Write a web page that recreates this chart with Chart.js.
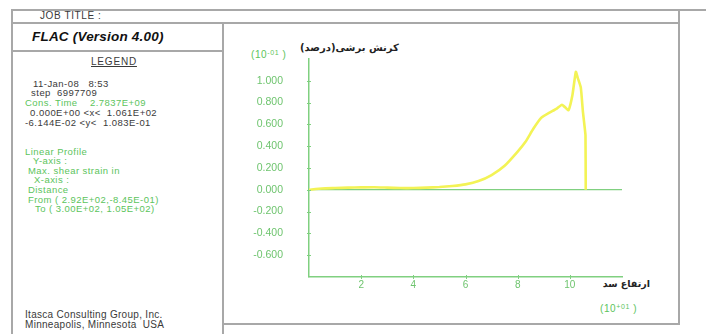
<!DOCTYPE html>
<html>
<head>
<meta charset="utf-8">
<script src="https://cdn.jsdelivr.net/npm/chart.js@4.4.1/dist/chart.umd.min.js"></script>
<style>
  html, body { margin: 0; padding: 0; background: #fff; }
  #wrap { position: relative; width: 706px; height: 334px; overflow: hidden; font-family: "Liberation Sans", Arial, sans-serif; }
  #wrap canvas { position: absolute; left: 0; top: 0; }
  .ln { position: absolute; background: #a8a8a8; }
  .t { position: absolute; white-space: pre; font-size: 9.5px; letter-spacing: 0.45px; color: #3a3a3a; line-height: 1; }
  .g { color: #5cc45c; }
  .ar { font-family: "DejaVu Sans", sans-serif; font-weight: bold; font-size: 10px; letter-spacing: 0; color: #222; }
  sup { font-size: 7px; vertical-align: 3px; }
</style>
</head>
<body>
<div id="wrap">
  <!-- frame lines -->
  <div class="ln" style="left:12px;top:9px;width:694px;height:1.5px"></div>
  <div class="ln" style="left:12px;top:22px;width:667px;height:1.5px"></div>
  <div class="ln" style="left:12px;top:50px;width:211px;height:1.5px"></div>
  <div class="ln" style="left:11px;top:9px;width:1.5px;height:325px"></div>
  <div class="ln" style="left:222px;top:22px;width:1.5px;height:312px"></div>
  <div class="ln" style="left:678px;top:9px;width:2px;height:316px"></div>
  <div class="ln" style="left:222px;top:323px;width:458px;height:2px"></div>

  <!-- header / legend panel -->
  <div class="t" style="left:40px;top:11px;font-size:10px;letter-spacing:0.6px">JOB TITLE :</div>
  <div class="t" style="left:32px;top:30px;font-size:13.5px;letter-spacing:0.2px;font-weight:bold;font-style:italic;color:#111">FLAC (Version 4.00)</div>
  <div class="t" style="left:91px;top:57px;font-size:10px;letter-spacing:0.8px;text-decoration:underline">LEGEND</div>
  <div class="t" style="left:33px;top:79px">11-Jan-08   8:53</div>
  <div class="t" style="left:28px;top:88px"> step  6997709</div>
  <div class="t g" style="left:25px;top:98px">Cons. Time    2.7837E+09</div>
  <div class="t" style="left:27px;top:108px"> 0.000E+00 &lt;x&lt;  1.061E+02</div>
  <div class="t" style="left:25px;top:118px">-6.144E-02 &lt;y&lt;  1.083E-01</div>
  <div class="t g" style="left:25px;top:147px">Linear Profile</div>
  <div class="t g" style="left:33px;top:156px">Y-axis :</div>
  <div class="t g" style="left:28px;top:166px">Max. shear strain in</div>
  <div class="t g" style="left:34px;top:175px">X-axis :</div>
  <div class="t g" style="left:28px;top:185px">Distance</div>
  <div class="t g" style="left:28px;top:195px">From ( 2.92E+02,-8.45E-01)</div>
  <div class="t g" style="left:35px;top:204px">To ( 3.00E+02, 1.05E+02)</div>
  <div class="t" style="left:25px;top:310px;font-size:10px;letter-spacing:0.3px">Itasca Consulting Group, Inc.</div>
  <div class="t" style="left:25px;top:320px;font-size:10px;letter-spacing:0.3px">Minneapolis, Minnesota  USA</div>

  <!-- axis titles and exponents -->
  <div class="t ar" dir="rtl" style="left:300px;top:43px">کرنش برشی(درصد)</div>
  <div class="t g" style="left:251px;top:49px;font-size:10px;letter-spacing:0.6px">(10<sup>-01</sup> )</div>
  <div class="t ar" dir="rtl" style="right:56px;top:279px;font-size:9.5px">ارتفاع سد</div>
  <div class="t g" style="left:600px;top:303px;font-size:10px;letter-spacing:0.6px">(10<sup>+01</sup> )</div>

  <canvas id="c" width="706" height="334"></canvas>
</div>
<script>
// Profile of maximum shear strain along the dam height
const distance = [0, 0.5, 1, 1.5, 2, 2.5, 3, 3.5, 4, 4.5, 5, 5.5, 6, 6.5, 7, 7.5, 8, 8.3, 8.6, 8.9, 9.2, 9.5, 9.7, 9.85, 9.95, 10.1, 10.23, 10.3, 10.42, 10.5, 10.58, 10.6, 10.61];
const shearStrain = [0.0, 0.012, 0.016, 0.02, 0.022, 0.024, 0.02, 0.016, 0.016, 0.02, 0.025, 0.035, 0.05, 0.08, 0.135, 0.22, 0.35, 0.44, 0.56, 0.66, 0.705, 0.745, 0.78, 0.75, 0.73, 0.87, 1.083, 1.03, 0.94, 0.72, 0.55, 0.5, 0.0];

const xTickLabels = ['2', '4', '6', '8', '10'];
const yTickLabels = ['-0.600', '-0.400', '-0.200', '0.000', '0.200', '0.400', '0.600', '0.800', '1.000'];

const AXIS_GREEN = 'rgb(128,208,128)';
const LABEL_GREEN = 'rgb(110,196,110)';

const points = distance.map((x, i) => ({ x: x, y: shearStrain[i] }));

function labelFor(list, decimals) {
  return function (value) {
    const s = decimals ? value.toFixed(decimals) : String(Math.round(value));
    return list.includes(s) ? s : '';
  };
}

// short tick marks crossing each axis at the labelled values
const crossTicks = {
  id: 'crossTicks',
  afterDraw(chart) {
    const { ctx, chartArea, scales } = chart;
    ctx.save();
    ctx.strokeStyle = AXIS_GREEN;
    ctx.lineWidth = 1;
    xTickLabels.forEach(v => {
      const px = Math.round(scales.x.getPixelForValue(Number(v))) + 0.5;
      ctx.beginPath();
      ctx.moveTo(px, chartArea.bottom - 2);
      ctx.lineTo(px, chartArea.bottom + 2);
      ctx.stroke();
    });
    yTickLabels.forEach(v => {
      const py = Math.round(scales.y.getPixelForValue(Number(v))) + 0.5;
      ctx.beginPath();
      ctx.moveTo(chartArea.left - 2, py);
      ctx.lineTo(chartArea.left + 2, py);
      ctx.stroke();
    });
    ctx.restore();
  }
};

new Chart(document.getElementById('c'), {
  type: 'scatter',
  data: {
    datasets: [{
      data: points,
      showLine: true,
      borderColor: 'rgb(243,243,85)',
      borderWidth: 2.6,
      pointRadius: 0,
      tension: 0.15,
      fill: false
    }]
  },
  options: {
    responsive: false,
    devicePixelRatio: 1,
    animation: false,
    layout: { padding: { left: 0, top: 59, right: 84, bottom: 0 } },
    plugins: { legend: { display: false }, tooltip: { enabled: false } },
    scales: {
      x: {
        type: 'linear',
        min: 0,
        max: 12,
        afterFit(scale) { scale.height = 57; },
        ticks: {
          stepSize: 2,
          autoSkip: false,
          maxRotation: 0,
          padding: 2,
          color: LABEL_GREEN,
          font: { family: 'Liberation Sans', size: 10 },
          callback: labelFor(xTickLabels, 0)
        },
        grid: { display: false, drawTicks: false },
        border: { display: true, color: AXIS_GREEN, width: 1.5 }
      },
      y: {
        type: 'linear',
        min: -0.8,
        max: 1.2,
        afterFit(scale) { scale.width = 309; },
        ticks: {
          stepSize: 0.2,
          autoSkip: false,
          padding: 26,
          color: LABEL_GREEN,
          font: { family: 'Liberation Sans', size: 10.5 },
          callback: labelFor(yTickLabels, 3)
        },
        grid: {
          display: true,
          drawTicks: false,
          lineWidth: 1.2,
          color: ctx => (ctx.tick && Math.abs(ctx.tick.value) < 1e-9) ? AXIS_GREEN : 'rgba(0,0,0,0)'
        },
        border: { display: true, color: AXIS_GREEN, width: 1.5 }
      }
    }
  },
  plugins: [crossTicks]
});
</script>
</body>
</html>
